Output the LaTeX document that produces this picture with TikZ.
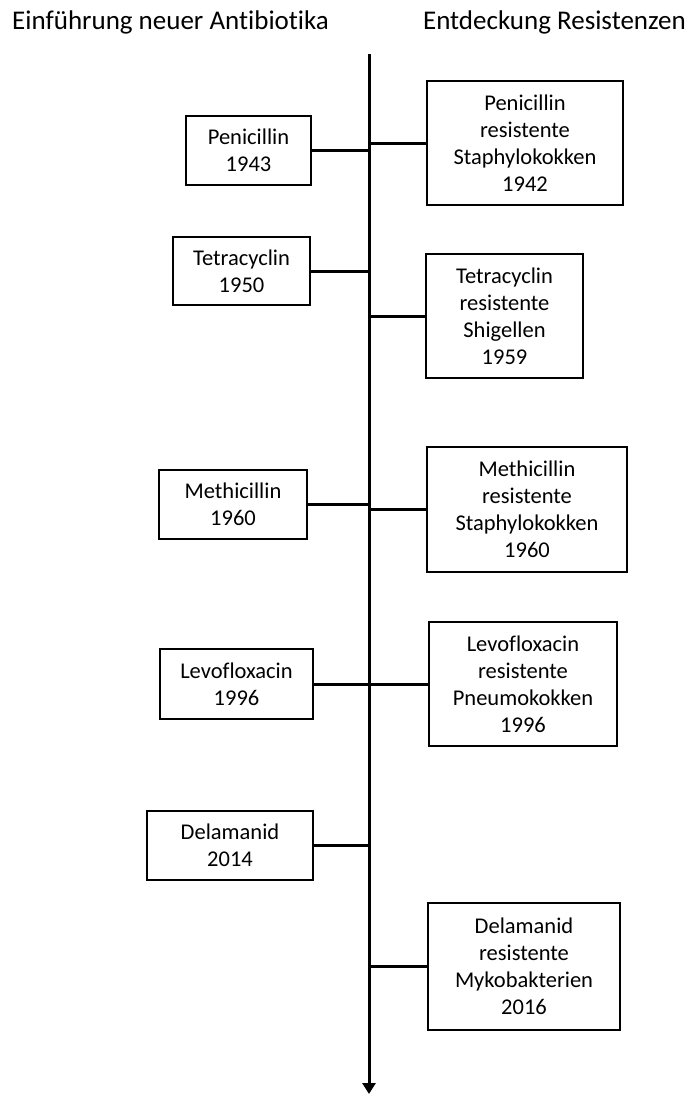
\documentclass[tikz,border=0pt]{standalone}
\usepackage{fontspec}
\setmainfont{Carlito}[Ligatures=NoCommon]
\usetikzlibrary{arrows.meta}
\tikzset{
  box/.style={draw,line width=1.2pt,align=center,inner sep=0pt,
    font=\fontsize{22.5}{27}\selectfont},
  conn/.style={line width=3pt},
  axisline/.style={line width=3pt,-{Triangle[width=13pt,length=11pt]}},
  head/.style={font=\fontsize{27}{31}\selectfont,inner sep=0pt}
}

\begin{document}
\begin{tikzpicture}[x=1pt,y=-1pt]
	\useasboundingbox (0,0) rectangle (694,1095);
	\node[head,anchor=base west] (hleft) at (12,29) {Einführung neuer Antibiotika};
	\node[head,anchor=base east] (hright) at (686,29) {Entdeckung Resistenzen};
	\coordinate (top) at (369,54);
	\coordinate (bot) at (369,1094);
	\draw[axisline] (top) -- (bot);
	% Einfuehrung (links)
	\node[box,minimum width=125pt,minimum height=69pt] (pen) at (248.5,150.5) {Penicillin\\1943};
	\node[box,minimum width=137pt,minimum height=68pt] (tet) at (241.5,271) {Tetracyclin\\1950};
	\node[box,minimum width=148pt,minimum height=69pt] (met) at (233,504.5) {Methicillin\\1960};
	\node[box,minimum width=153pt,minimum height=70pt] (lev) at (236.5,684) {Levofloxacin\\1996};
	\node[box,minimum width=166pt,minimum height=69pt] (del) at (230,845.5) {Delamanid\\2014};
	% Resistenzen (rechts)
	\node[box,minimum width=196pt,minimum height=124pt] (penres) at (525,143) {Penicillin\\resistente\\Staphylokokken\\1942};
	\node[box,minimum width=157pt,minimum height=124pt] (tetres) at (504.5,316) {Tetracyclin\\resistente\\Shigellen\\1959};
	\node[box,minimum width=200pt,minimum height=125pt] (metres) at (527,509.5) {Methicillin\\resistente\\Staphylokokken\\1960};
	\node[box,minimum width=188pt,minimum height=124pt] (levres) at (523,684) {Levofloxacin\\resistente\\Pneumokokken\\1996};
	\node[box,minimum width=192pt,minimum height=127pt] (delres) at (524,966.5) {Delamanid\\resistente\\Mykobakterien\\2016};
	% Verbindungen
	\foreach \n in {pen,tet,met,lev,del}
		\draw[conn] (\n.east) -- (\n.east -| top);
	\foreach \n in {penres,tetres,metres,levres,delres}
		\draw[conn] (\n.west) -- (\n.west -| top);
\end{tikzpicture}
\end{document}
